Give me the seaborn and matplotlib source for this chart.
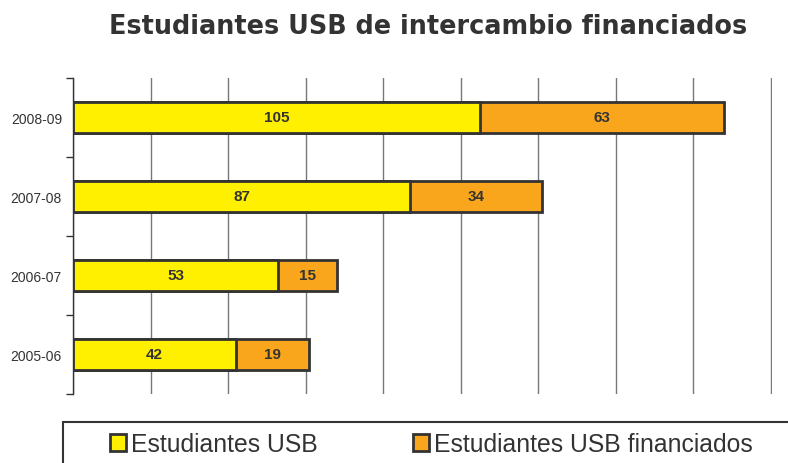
import matplotlib
matplotlib.use("Agg")
import matplotlib.pyplot as plt
import seaborn as sns
import pandas as pd
from matplotlib.patches import Patch, Rectangle

years = ["2008-09", "2007-08", "2006-07", "2005-06"]
usb = [105, 87, 53, 42]
financiados = [63, 34, 15, 19]
series_names = ["Estudiantes USB", "Estudiantes USB financiados"]

sns.set_theme(style="white")
plt.rcParams["font.family"] = ["Liberation Sans", "DejaVu Sans"]

YELLOW = "#FFF000"
ORANGE = "#F9A61C"
EDGE = "#333333"

df = pd.DataFrame({"year": years, "usb": usb, "fin": financiados})
df["total"] = df["usb"] + df["fin"]

fig = plt.figure(figsize=(7.88, 4.64), dpi=100)
ax = fig.add_axes([73/788, 1-395/464, (772-73)/788, (395-79)/464])

ax.set_xlim(0, 180)
ax.set_xticks(range(0, 181, 20))
ax.xaxis.grid(True, color="#777777", linewidth=1)
ax.set_axisbelow(True)

sns.barplot(data=df, x="total", y="year", order=years, color=ORANGE, orient="h",
            width=0.39, edgecolor=EDGE, linewidth=2, saturation=1, ax=ax)
sns.barplot(data=df, x="usb", y="year", order=years, color=YELLOW, orient="h",
            width=0.39, edgecolor=EDGE, linewidth=2, saturation=1, ax=ax)

for i, (u, f) in enumerate(zip(usb, financiados)):
    ax.text(u/2, i, str(u), ha="center", va="center", fontsize=11,
            fontweight="bold", color="#333333")
    ax.text(u + f/2, i, str(f), ha="center", va="center", fontsize=11,
            fontweight="bold", color="#333333")

ax.set_xlim(0, 180.3)
ax.set_ylim(3.5, -0.5)
ax.set_xlabel("")
ax.set_ylabel("")
ax.set_xticklabels([])
ax.tick_params(axis="x", length=0)
ax.tick_params(axis="y", which="major", length=0, labelsize=10, labelcolor="#333333", pad=8)
ax.set_yticks([-0.5, 0.5, 1.5, 2.5, 3.5], minor=True)
ax.tick_params(axis="y", which="minor", length=5, width=1, color="#333333", direction="out", left=True)
for s in ["top", "right", "bottom"]:
    ax.spines[s].set_visible(False)
ax.spines["left"].set_color("#333333")
ax.spines["left"].set_linewidth(1)

fig.text(428/788, 1-27/464, "Estudiantes USB de intercambio financiados",
         ha="center", va="center", fontsize=18.4, fontweight="bold", color="#333333",
         family="DejaVu Sans")

fig.patches.append(Rectangle((63/788, -0.2), 1.0, 0.2 + 1-423/464, transform=fig.transFigure,
                             fill=False, edgecolor="#333333", linewidth=1.5))
handles = [Patch(facecolor=YELLOW, edgecolor=EDGE, linewidth=2),
           Patch(facecolor=ORANGE, edgecolor=EDGE, linewidth=2)]
fig.legend(handles, series_names, loc="center left", bbox_to_anchor=(110/788, 1-445/464),
           ncol=2, frameon=False, fontsize=17.8, handlelength=0.65, handleheight=0.65,
           handletextpad=0.2, columnspacing=3.85, labelcolor="#333333", borderpad=0,
           borderaxespad=0)

fig.savefig("out.png", dpi=100)
